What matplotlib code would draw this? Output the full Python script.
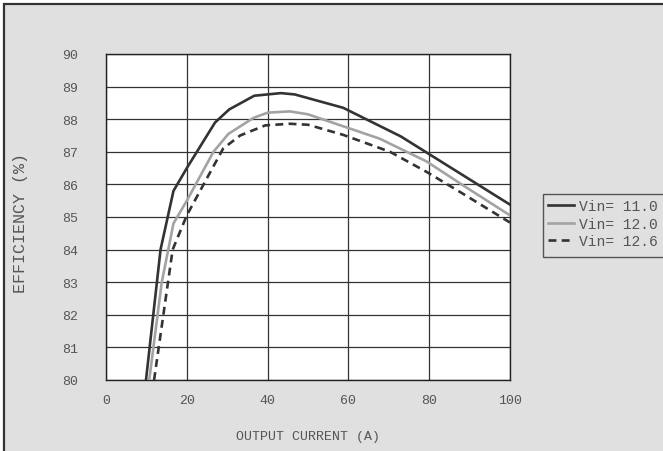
import matplotlib
matplotlib.use('Agg')
import matplotlib.pyplot as plt
from matplotlib.patches import Rectangle

# efficiency curves
cur_110 = [9.9, 13.5, 16.7, 20, 27, 30.5, 36.7, 43.3, 46.7, 58.7, 73, 100]
eff_110 = [80.0, 84.0, 85.8, 86.5, 87.9, 88.3, 88.72, 88.8, 88.76, 88.35, 87.47, 85.38]

cur_120 = [10.7, 13.8, 16.7, 20, 26.6, 30.3, 36.5, 40, 45.5, 50, 67.8, 79.4, 88.4, 100]
eff_120 = [80.0, 83.0, 84.8, 85.5, 87.0, 87.55, 88.04, 88.2, 88.24, 88.15, 87.4, 86.7, 85.97, 85.05]

cur_126 = [11.9, 16.5, 20, 24.9, 29, 33.2, 39.4, 45.5, 50, 58.7, 70.3, 79.4, 88.4, 100]
eff_126 = [80.0, 84.0, 85.05, 86.17, 87.1, 87.5, 87.81, 87.86, 87.83, 87.52, 87.0, 86.38, 85.71, 84.83]

labels = ['Vin= 11.0', 'Vin= 12.0', 'Vin= 12.6']
x_ticks = [0, 20, 40, 60, 80, 100]
y_ticks = list(range(80, 91))

plt.rcParams['font.family'] = ['Liberation Mono', 'DejaVu Sans Mono']

W, H = 663, 452
fig = plt.figure(figsize=(W / 100, H / 100), dpi=100, facecolor='white')

# grey panel with dark frame, cut off at right and bottom like the source
fig.patches.append(Rectangle((4 / W, -0.1), 1.2, 1 - 5 / H + 0.1, transform=fig.transFigure,
                             facecolor='#e0e0e0', edgecolor='#333333', linewidth=1.6, zorder=-5))
# legend box, also running past the right edge
fig.patches.append(Rectangle((543 / W, 1 - 258 / H), 0.3, 63 / H, transform=fig.transFigure,
                             facecolor='#e0e0e0', edgecolor='#555555', linewidth=1.0, zorder=-4))

ax = fig.add_axes([106 / W, 1 - 381 / H, 404 / W, 326 / H])
ax.set_facecolor('white')

ax.plot(cur_110, eff_110, color='#333333', lw=1.9, label=labels[0], zorder=3)
ax.plot(cur_120, eff_120, color='#a3a3a3', lw=1.9, label=labels[1], zorder=3)
ax.plot(cur_126, eff_126, color='#333333', lw=1.9, ls=(0, (3, 2)), label=labels[2], zorder=3)

ax.set_xlim(0, 100)
ax.set_ylim(80, 90)
ax.set_xticks(x_ticks)
ax.set_yticks(y_ticks)
ax.grid(True, color='#333333', lw=0.9)
ax.set_axisbelow(True)
ax.tick_params(length=0, labelsize=9.5, labelcolor='#555555')
ax.tick_params(axis='y', pad=20)
ax.tick_params(axis='x', pad=10)
for s in ax.spines.values():
    s.set_color('#222222')
    s.set_linewidth(1.0)

ax.set_xlabel('OUTPUT CURRENT (A)', fontsize=9.5, color='#555555')
ax.set_ylabel('EFFICIENCY (%)', fontsize=12, color='#555555')
ax.xaxis.set_label_coords(0.5, -(431 - 381) / 326)
ax.yaxis.set_label_coords(-(106 - 28) / 404, 0.485)

leg = fig.legend(loc='upper left', bbox_to_anchor=(548 / W, 1 - 200 / H),
                 fontsize=10.5, frameon=False, handlelength=1.75,
                 handletextpad=0.35, borderpad=0.0, borderaxespad=0.0, labelspacing=0.25)
for t in leg.get_texts():
    t.set_color('#555555')

fig.savefig('out.png', dpi=100, facecolor='white')
